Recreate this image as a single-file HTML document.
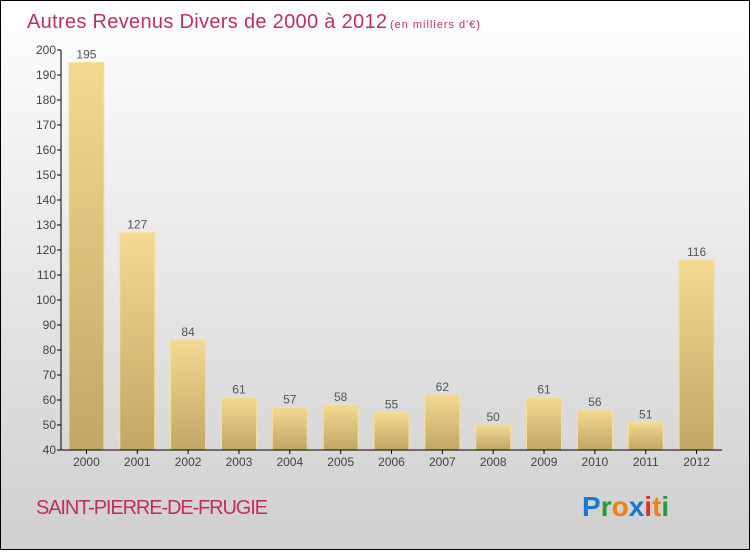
<!DOCTYPE html>
<html><head><meta charset="utf-8"><style>
body{margin:0}
svg text{font-family:"Liberation Sans",sans-serif}
</style></head><body>
<svg id="chart" width="750" height="550" xmlns="http://www.w3.org/2000/svg">
<defs>
<linearGradient id="bg" x1="0" y1="0" x2="0" y2="1"><stop offset="0" stop-color="#ffffff"/><stop offset="1" stop-color="#cfcfcf"/></linearGradient>
<linearGradient id="bar" x1="0" y1="0" x2="0" y2="1"><stop offset="0" stop-color="#f3d994"/><stop offset="1" stop-color="#c2a764"/></linearGradient>
</defs>
<rect x="0.5" y="0.5" width="749" height="549" fill="url(#bg)" stroke="#000"/>
<text x="27" y="28" font-size="20" fill="#c0305a" textLength="360">Autres Revenus Divers de 2000 à 2012</text>
<text x="390" y="28" font-size="11" fill="#c0305a" textLength="90">(en milliers d'€)</text>
<g id="plot"></g>
<text x="36" y="514" font-size="20" fill="#c0305a" textLength="232">SAINT-PIERRE-DE-FRUGIE</text>
<g font-size="28" font-weight="bold">
<text x="582" y="516"><tspan fill="#1a78d0">P</tspan><tspan fill="#2a9a3a">r</tspan><tspan fill="#f08010">o</tspan><tspan fill="#1a78d0">x</tspan><tspan fill="#e03020">i</tspan><tspan fill="#f08010">t</tspan><tspan fill="#2a9a3a">i</tspan></text>
</g>
</svg>
<script>
const years=["2000","2001","2002","2003","2004","2005","2006","2007","2008","2009","2010","2011","2012"];
const values=[195,127,84,61,57,58,55,62,50,61,56,51,116];
const yTicks=[40,50,60,70,80,90,100,110,120,130,140,150,160,170,180,190,200];
const NS="http://www.w3.org/2000/svg";
const g=document.getElementById('plot');
const x0=61,x1=722,yTop=50,yBot=450,ymin=40,ymax=200;
const band=(x1-x0)/years.length;
const y=v=>yBot-(v-ymin)/(ymax-ymin)*(yBot-yTop);
const xc=i=>x0+band*(i+0.5);
function mk(t,a){const e=document.createElementNS(NS,t);for(const k in a)e.setAttribute(k,a[k]);g.appendChild(e);return e;}
values.forEach((v,i)=>{
 const r=mk('rect',{x:xc(i)-17.5,y:y(v),width:35,height:yBot-y(v),fill:'url(#bar)',stroke:'#f5e09c','stroke-width':1});
 
 
 const t=mk('text',{x:xc(i),y:y(v)-4,'font-size':12,'text-anchor':'middle',fill:'#555'});
 t.textContent=v;
 
 
 const xl=mk('text',{x:xc(i),y:466,'font-size':12,'text-anchor':'middle',fill:'#444'});
 xl.textContent=years[i];
 
 
 const tk=mk('line',{x1:xc(i),x2:xc(i),y1:yBot,y2:yBot+4,stroke:'#000'});
 
 
});
yTicks.forEach(v=>{
 const l=mk('line',{x1:x0-4,x2:x0,y1:y(v),y2:y(v),stroke:'#000'});
 
 
 const t=mk('text',{x:x0-5,y:y(v)+4,'font-size':12,'text-anchor':'end',fill:'#444'});
 t.textContent=v;
 
 
});
const ya=mk('line',{x1:x0,x2:x0,y1:yTop,y2:yBot,stroke:'#000'});


const xa=mk('line',{x1:x0,x2:x1,y1:yBot,y2:yBot,stroke:'#000'});


</script>
</body></html>
